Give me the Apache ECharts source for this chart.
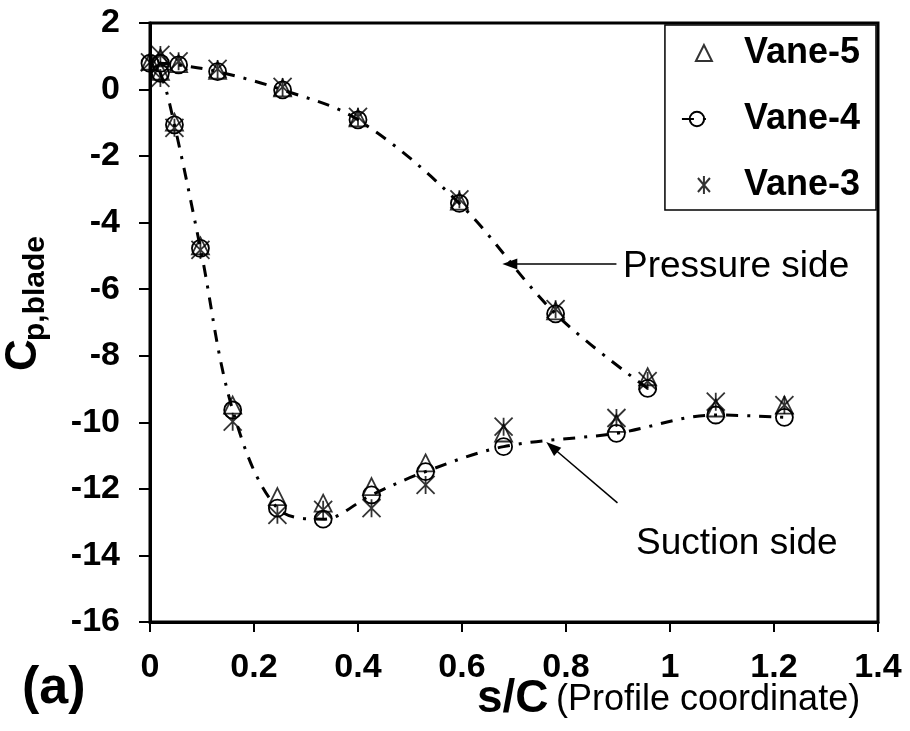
<!DOCTYPE html>
<html>
<head>
<meta charset="utf-8">
<script src="https://cdn.jsdelivr.net/npm/echarts@6/dist/echarts.min.js"></script>
<style>html,body{margin:0;padding:0;background:#fff}#c{width:910px;height:731px}</style>
</head>
<body>
<div id="c"></div>
<script>
// ---- data (s/C, Cp) ----
const sPressure = [0, 0.02, 0.055, 0.13, 0.255, 0.4, 0.595, 0.78, 0.957];
const sSuction  = [0.02, 0.047, 0.097, 0.159, 0.245, 0.333, 0.426, 0.53, 0.68, 0.897, 1.088, 1.22];

const vane5Pressure = [0.85, 0.95, 0.78, 0.58, 0.05, -0.85, -3.35, -6.65, -8.63];
const vane5Suction  = [0.55, -0.98, -4.7, -9.48, -12.23, -12.43, -11.93, -11.22, -10.32, -10.03, -9.57, -9.48];

const vane4Pressure = [0.79, 0.79, 0.74, 0.54, -0.01, -0.91, -3.42, -6.74, -8.98];
const vane4Suction  = [0.49, -1.06, -4.77, -9.63, -12.58, -12.91, -12.18, -11.48, -10.73, -10.33, -9.78, -9.85];

const vane3Pressure = [0.82, 1.04, 0.85, 0.62, 0.08, -0.82, -3.3, -6.6, -8.76];
const vane3Suction  = [0.35, -1.15, -4.82, -9.98, -12.78, -12.63, -12.58, -11.88, -10.13, -9.87, -9.38, -9.48];

const xTicks = [0, 0.2, 0.4, 0.6, 0.8, 1, 1.2, 1.4];
const yTicks = [-16, -14, -12, -10, -8, -6, -4, -2, 0, 2];

const seriesNames = ['Vane-5', 'Vane-4', 'Vane-3'];

// annotation arrows (data coords: tail -> head)
const pressureArrow = [[0.897, -5.24], [0.692, -5.24]];
const suctionArrow  = [[0.899, -12.42], [0.773, -10.74]];

// ---- build ----
function pts(sArr, vArr) { return sArr.map((s, i) => [s, vArr[i]]); }
const v5 = pts(sPressure, vane5Pressure).concat(pts(sSuction, vane5Suction));
const v3 = pts(sPressure, vane3Pressure).concat(pts(sSuction, vane3Suction));
// Vane-4 ordered along the profile: pressure side TE -> LE -> suction side TE
const v4 = pts(sPressure, vane4Pressure).reverse().concat(pts(sSuction, vane4Suction));

const FF = '"Liberation Sans", Arial, sans-serif';
const hollow = { color: 'rgba(0,0,0,0)', borderColor: '#000', borderWidth: 1.8 };
const asterisk = 'path://M0,0L20,20M20,0L0,20M10,0L10,20';
const legendTri = 'path://M0,0M30,18M14,17L22,1L30,17Z';
const legendAst = 'path://M0,0M30,18M16,2L28,16M28,2L16,16M22,0L22,18';

const chart = echarts.init(document.getElementById('c'), null, { renderer: 'canvas' });
chart.setOption({
  animation: false,
  backgroundColor: '#fff',
  grid: { left: 150, right: 32, top: 23, bottom: 109, show: true, borderColor: '#000', borderWidth: 3, backgroundColor: 'rgba(0,0,0,0)' },
  xAxis: {
    type: 'value', min: xTicks[0], max: xTicks[xTicks.length - 1], interval: 0.2,
    axisLine: { onZero: false, lineStyle: { color: '#000', width: 3 } },
    axisTick: { inside: false, length: 10, lineStyle: { color: '#000', width: 2 } },
    axisLabel: { margin: 29, color: '#000', fontSize: 34, fontWeight: 'bold', fontFamily: FF,
      formatter: v => String(parseFloat(v.toFixed(1))) },
    splitLine: { show: false }
  },
  yAxis: {
    type: 'value', min: yTicks[0], max: yTicks[yTicks.length - 1], interval: 2,
    axisLine: { onZero: false, lineStyle: { color: '#000', width: 3 } },
    axisTick: { inside: false, length: 11, lineStyle: { color: '#000', width: 2 } },
    axisLabel: { margin: 30, color: '#000', fontSize: 34, fontWeight: 'bold', fontFamily: FF },
    splitLine: { show: false }
  },
  legend: {
    data: [
      { name: seriesNames[0], icon: legendTri },
      { name: seriesNames[1] },
      { name: seriesNames[2], icon: legendAst }
    ],
    orient: 'vertical', right: 34, top: 25,
    backgroundColor: '#fff',
    borderColor: '#000', borderWidth: 1.5,
    padding: [10, 16, 7, 16],
    itemGap: 30, itemWidth: 30, itemHeight: 18,
    textStyle: { color: '#000', fontSize: 36, fontWeight: 'bold', fontFamily: FF, padding: [0, 0, 0, 27] }
  },
  series: [
    {
      name: 'Vane-4', type: 'line', data: v4, smooth: 0.35,
      symbol: 'circle', symbolSize: 17, showAllSymbol: true,
      lineStyle: { color: '#000', width: 3, type: [12, 9, 3, 9] },
      itemStyle: hollow, z: 3,
      emphasis: { disabled: true }
    },
    {
      name: 'Vane-5', type: 'scatter', data: v5,
      symbol: 'triangle', symbolSize: 17, symbolKeepAspect: true,
      itemStyle: hollow, z: 4, emphasis: { disabled: true }
    },
    {
      name: 'Vane-3', type: 'scatter', data: v3,
      symbol: asterisk, symbolSize: 18, symbolKeepAspect: true,
      itemStyle: { color: '#000', borderColor: '#000', borderWidth: 1.8 }, z: 5,
      emphasis: { disabled: true }
    },
    {
      name: 'annotations', type: 'line', data: [], silent: true,
      markLine: {
        silent: true, animation: false,
        symbol: ['none', 'triangle'], symbolSize: [11, 15],
        label: { show: false },
        lineStyle: { color: '#000', width: 1.5, type: 'solid' },
        emphasis: { disabled: true },
        data: [
          [{ coord: pressureArrow[0] }, { coord: pressureArrow[1] }],
          [{ coord: suctionArrow[0] }, { coord: suctionArrow[1] }]
        ]
      }
    }
  ],
  graphic: [
    { type: 'text', x: 24, y: 355, rotation: Math.PI / 2,
      style: { text: 'C', fontSize: 44, fontWeight: 'bold', fontFamily: FF, fill: '#000', align: 'center', verticalAlign: 'middle' } },
    { type: 'text', x: 36, y: 341, rotation: Math.PI / 2,
      style: { text: 'p,blade', fontSize: 30, fontWeight: 'bold', fontFamily: FF, fill: '#000', align: 'left', verticalAlign: 'middle' } },
    { type: 'text', x: 22, y: 689,
      style: { text: '(a)', fontSize: 52, fontWeight: 'bold', fontFamily: FF, fill: '#000', align: 'left', verticalAlign: 'middle' } },
    { type: 'text', x: 477, y: 699,
      style: { text: 's/C', fontSize: 46, fontWeight: 'bold', fontFamily: FF, fill: '#000', align: 'left', verticalAlign: 'middle' } },
    { type: 'text', x: 556, y: 700,
      style: { text: '(Profile coordinate)', fontSize: 36, fontFamily: FF, fill: '#000', align: 'left', verticalAlign: 'middle' } },
    { type: 'text', x: 623, y: 267,
      style: { text: 'Pressure side', fontSize: 37, fontFamily: FF, fill: '#000', align: 'left', verticalAlign: 'middle' } },
    { type: 'text', x: 636, y: 544,
      style: { text: 'Suction side', fontSize: 37, fontFamily: FF, fill: '#000', align: 'left', verticalAlign: 'middle' } }
  ]
});
</script>
</body>
</html>
